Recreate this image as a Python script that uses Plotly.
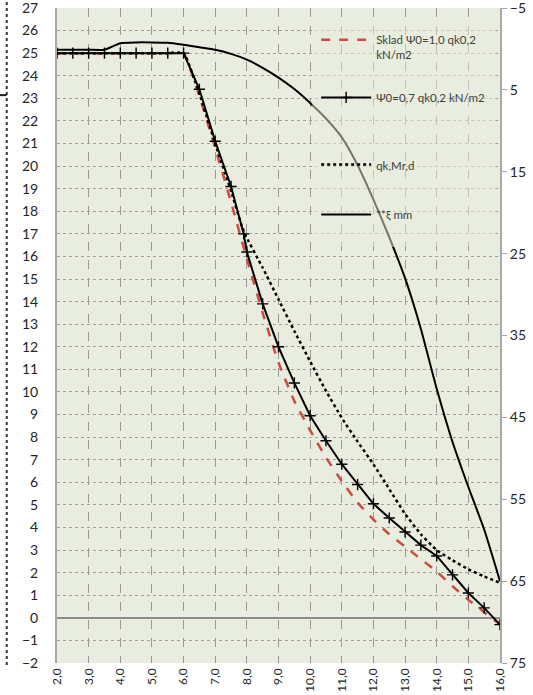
import plotly.graph_objects as go

# ---- data ----
x_red = [2, 2.5, 3, 3.5, 4, 4.5, 5, 5.5, 6, 6.5, 7, 7.5, 8, 8.5, 9, 9.5, 10, 10.5, 11, 11.5, 12, 12.5, 13, 13.5, 14, 14.5, 15, 15.5, 16]
y_red = [25, 25, 25, 25, 25, 25, 25, 25, 25, 23.1, 20.8, 18.4, 15.9, 13.5, 11.3, 9.6, 8.3, 7.1, 6.05, 5.1, 4.35, 3.7, 3.15, 2.6, 2.05, 1.4, 0.8, 0.25, -0.3]

x_psi = [2, 2.5, 3, 3.5, 4, 4.5, 5, 5.5, 6, 6.5, 7, 7.5, 7.9, 8, 8.5, 9, 9.5, 10, 10.5, 11, 11.5, 12, 12.5, 13, 13.5, 14, 14.5, 15, 15.5, 16]
y_psi = [25, 25, 25, 25, 25, 25, 25, 25, 25, 23.4, 21.1, 19.1, 17.0, 16.2, 13.9, 12.0, 10.4, 8.95, 7.84, 6.8, 5.9, 5.05, 4.42, 3.8, 3.22, 2.74, 1.9, 1.1, 0.44, -0.3]

x_qk = [2, 2.5, 3, 3.5, 4, 4.5, 5, 5.5, 6, 6.5, 7, 7.5, 7.9, 8.5, 9, 9.5, 10, 10.5, 11, 11.5, 12, 12.5, 13, 13.5, 14, 14.5, 15, 15.5, 16]
y_qk = [25, 25, 25, 25, 25, 25, 25, 25, 25, 23.2, 21.0, 18.9, 17.1, 15.5, 14.1, 12.7, 11.35, 10.05, 8.85, 7.8, 6.8, 5.7, 4.6, 3.7, 3.0, 2.55, 2.15, 1.83, 1.55]

x_xi = [2, 2.5, 3, 3.5, 4, 4.5, 5, 5.5, 6, 6.5, 7, 7.5, 8, 8.5, 9, 9.5, 10, 10.5, 11, 11.5, 12, 12.5, 13, 13.5, 14, 14.5, 15, 15.5, 16]
y_xi = [0.1, 0.1, 0.1, 0.1, -0.7, -0.8, -0.8, -0.75, -0.5, -0.2, 0.1, 0.6, 1.3, 2.3, 3.5, 4.9, 6.6, 8.5, 10.8, 14.2, 18.4, 23.0, 28.0, 34.2, 41.5, 48.0, 53.5, 58.7, 65.0]

x_ticks = list(range(2, 17))
x_ticktext = [f"{v},0" for v in x_ticks]
y_ticks = list(range(-2, 28))
y2_ticks = [-5, 5, 15, 25, 35, 45, 55, 65, 75]

names = ["Sklad \u03a80=1,0 qk0,2<br>kN/m2", "\u03a80=0,7 qk0,2 kN/m2", "qk,Mr,d", "**\u03be mm"]

FONT = "Lato"
TXT = "#262626"
BG = "#e9eddf"

fig = go.Figure()
fig.add_trace(go.Scatter(x=x_red, y=y_red, mode="lines", name=names[0], legend="legend",
                         line=dict(color="#cf4a42", width=2.5, dash="dash", shape="spline", smoothing=0.4)))
fig.add_trace(go.Scatter(x=x_psi, y=y_psi, mode="lines+markers", name=names[1], legend="legend2",
                         line=dict(color="black", width=2),
                         marker=dict(symbol="cross-thin", size=8, line=dict(color="black", width=1.4))))
fig.add_trace(go.Scatter(x=x_qk, y=y_qk, mode="lines", name=names[2], legend="legend3",
                         line=dict(color="black", width=2.5, dash="dot", shape="spline", smoothing=0.4)))
fig.add_trace(go.Scatter(x=x_xi, y=y_xi, mode="lines", name=names[3], legend="legend4", yaxis="y2",
                         line=dict(color="black", width=2, shape="spline", smoothing=0.5)))

leg_common = dict(x=0.585, xanchor="left", yanchor="middle",
                  bgcolor="rgba(0,0,0,0)", font=dict(size=11.5, color="#404040"),
                  valign="top", itemwidth=50)

fig.update_layout(
    width=533, height=695,
    margin=dict(l=57, r=33, t=8, b=32, autoexpand=False),
    paper_bgcolor="white",
    plot_bgcolor=BG,
    font=dict(family=FONT, color=TXT),
    xaxis=dict(range=[2, 16], tickvals=x_ticks, ticktext=x_ticktext, tickangle=-90,
               tickfont=dict(size=12), showgrid=True, gridcolor="#9a9a94", griddash="dash",
               gridwidth=1, showline=False, zeroline=False, ticks="", ticklabelstandoff=2,
               automargin=False, ticklabeloverflow="allow"),
    yaxis=dict(range=[-2, 27], tickvals=y_ticks, tickfont=dict(size=14), showgrid=True,
               gridcolor="#a3a39c", griddash="dot", gridwidth=1, showline=True,
               linecolor="#a8a8a8", linewidth=2, zeroline=True, zerolinecolor="#8c8c8c",
               zerolinewidth=2, ticks="", ticklabelstandoff=14, ticklabeloverflow="allow",
               automargin=False),
    yaxis2=dict(range=[75, -5], tickvals=y2_ticks, overlaying="y", side="right",
                tickfont=dict(size=14), showgrid=False, showline=True, linecolor="#a8a8a8",
                linewidth=2, ticks="outside", ticklen=5, tickcolor="#a8a8a8", zeroline=False,
                ticklabeloverflow="allow", automargin=False),
    legend=dict(y=0.94, **leg_common),
    legend2=dict(y=0.8626, **leg_common),
    legend3=dict(y=0.7603, **leg_common),
    legend4=dict(y=0.684, **leg_common),
    showlegend=True,
    shapes=[
        # semi-transparent legend panel (fades what lies beneath it)
        dict(type="rect", xref="paper", yref="paper", x0=0.576, x1=0.99, y0=0.635, y1=0.975,
             fillcolor="rgba(233,237,223,0.5)", line=dict(width=0), layer="above"),
        # cropped neighbouring chart border at the left edge
        dict(type="line", xref="paper", yref="paper", x0=-0.1135, x1=-0.1135, y0=-0.003, y1=1.013,
             line=dict(color="#333333", width=2, dash="dot")),
        dict(type="line", xref="paper", yref="paper", x0=-0.13, x1=-0.1135, y0=0.867, y1=0.867,
             line=dict(color="#222222", width=2)),
    ],
)

fig.write_html("out.html", config={"displayModeBar": False},
               post_script="document.body.style.margin='0px';")
